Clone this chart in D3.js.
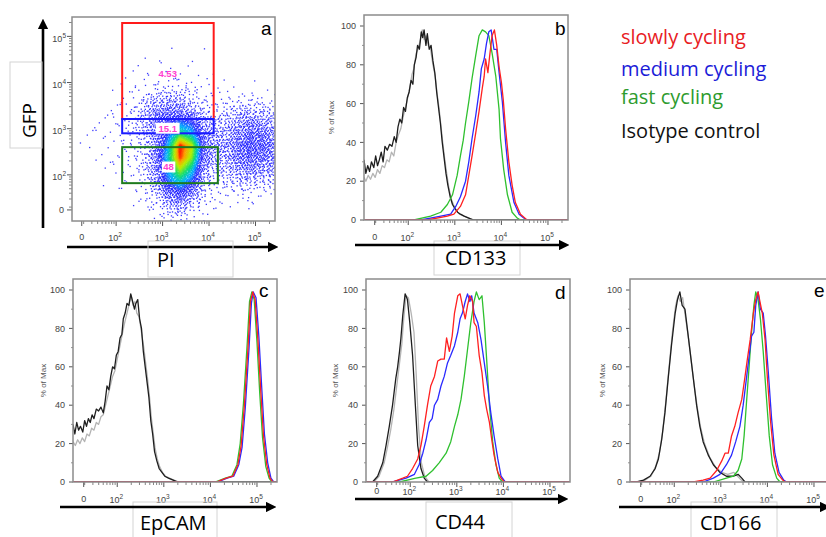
<!DOCTYPE html>
<html>
<head>
<meta charset="utf-8">
<title>Cycling populations - flow cytometry</title>
<script src="https://d3js.org/d3.v7.min.js"></script>
<style>
  body { margin: 0; background: #fff; }
  svg { display: block; font-family: "Liberation Sans", Arial, sans-serif; }
  .name { font-family: "Open Sans", sans-serif; }
</style>
</head>
<body>
<svg id="canvas" width="826" height="537"></svg>
<script>
// ---------- data ----------
// x positions are in display decades (2 = 10^2, 3 = 10^3 ...), "0" sits near 1.28
var tickDecades = [2, 3, 4, 5];
var tickExp = ["2", "3", "4", "5"];
var pctTicks = [0, 20, 40, 60, 80, 100];

// panel a: GFP vs PI density, counts per 0.25-decade cell (top row = highest GFP)
var gridX0 = 1.0, gridY0 = 1.0, cellSize = 0.25;
var densityGrid = [
  [0,0,0,0,0,0,0,0,0,0,0,0,0,0,0,0,0,0],
  [0,0,0,0,0,0,0,0,0,0,0,0,0,0,0,0,0,0],
  [0,0,0,0,0,0,0,0,0,0,0,0,0,0,0,0,0,0],
  [0,0,0,0,0,0,1,0,1,0,0,1,0,0,0,0,0,0],
  [0,0,0,0,0,1,1,1,2,1,1,0,0,0,0,0,0,0],
  [0,0,0,0,1,1,2,2,2,2,2,1,1,0,0,0,0,0],
  [0,0,0,0,1,2,4,7,9,8,5,3,2,1,1,1,0,0],
  [0,0,0,1,2,4,10,22,28,26,14,7,4,4,6,7,5,3],
  [0,0,1,1,3,8,24,48,55,50,30,14,9,15,20,25,20,15],
  [0,1,2,3,4,12,24,62,90,120,100,30,22,25,35,45,40,30],
  [0,1,2,2,4,6,16,45,110,190,150,50,28,30,50,65,60,45],
  [0,1,1,2,3,6,12,45,140,300,240,70,32,35,60,80,70,50],
  [0,1,1,2,3,6,12,55,160,290,220,60,28,30,55,70,60,45],
  [0,0,1,1,2,4,12,45,140,230,160,35,18,25,35,45,40,30],
  [0,0,0,1,2,3,8,35,115,160,110,22,12,15,18,22,18,12],
  [0,0,0,0,1,2,5,18,60,90,50,10,6,5,5,5,5,4],
  [0,0,0,0,0,1,3,8,28,38,20,5,2,2,2,2,2,1],
  [0,0,0,0,0,0,1,3,7,9,5,2,1,0,0,0,0,0]
];
// gates: [x0, x1, y0, y1] in decades
var gateSlow = [2.13, 4.10, 3.21, 5.29];
var gateMedium = [2.13, 4.10, 2.90, 3.21];
var gateFast = [2.13, 4.19, 1.82, 2.60];
var gateLabels = ["4.53", "15.1", "48"];
var gateLabelPos = [[3.11, 4.20], [3.11, 3.01], [3.13, 2.17]];

// panel b: CD133
var cd133Iso = [[1.05,31],[1.09,24],[1.13,28],[1.17,25],[1.21,30],[1.26,27],[1.30,33],[1.34,28],[1.38,31],[1.42,35],[1.46,30],[1.50,38],[1.55,36],[1.60,39],[1.65,38],[1.70,43],[1.74,40],[1.78,48],[1.82,52],[1.86,50],[1.90,58],[1.94,56],[1.98,63],[2.02,66],[2.06,72],[2.10,70],[2.13,80],[2.17,84],[2.20,90],[2.24,88],[2.28,97],[2.31,94],[2.34,98],[2.38,90],[2.41,96],[2.45,88],[2.49,90],[2.53,82],[2.57,76],[2.61,66],[2.65,58],[2.69,50],[2.73,40],[2.77,32],[2.81,24],[2.85,18],[2.90,12],[2.95,8],[3.00,6],[3.06,4],[3.12,3],[3.20,2],[3.30,1],[3.40,0],[5.43,0]];
var cd133Iso2 = [[1.05,22],[1.09,20],[1.14,23],[1.19,21],[1.24,24],[1.29,22],[1.34,26],[1.39,24],[1.44,28],[1.49,27],[1.54,31],[1.59,30],[1.64,35],[1.69,33],[1.74,40],[1.79,44],[1.84,47],[1.89,53],[1.94,58],[1.98,62],[2.03,68],[2.08,75],[2.12,78],[2.17,86],[2.21,88],[2.26,93],[2.30,98],[2.34,93],[2.38,95],[2.43,90],[2.48,88],[2.53,80],[2.58,74],[2.62,65],[2.66,58],[2.70,49],[2.74,40],[2.78,32],[2.82,25],[2.87,17],[2.92,11],[2.97,8],[3.03,5],[3.10,3],[3.20,2],[3.30,1],[3.42,0]];
var cd133Fast = [[1.05,0],[2.12,0],[2.48,2],[2.70,4],[2.84,8],[2.95,13],[3.05,23],[3.12,33],[3.18,41],[3.23,50],[3.30,61],[3.37,73],[3.45,85],[3.52,95],[3.59,98],[3.66,97],[3.73,95],[3.80,86],[3.88,74],[3.95,57],[3.98,42],[4.05,26],[4.13,13],[4.23,4],[4.34,1],[4.41,0],[5.43,0]];
var cd133Medium = [[1.05,0],[2.27,0],[2.70,2],[2.91,3],[3.02,7],[3.12,12],[3.23,20],[3.30,30],[3.37,42],[3.45,54],[3.52,66],[3.57,78],[3.63,83],[3.68,91],[3.73,97],[3.78,98],[3.84,88],[3.90,88],[3.95,76],[4.02,61],[4.09,40],[4.16,23],[4.27,9],[4.38,3],[4.48,1],[4.55,0],[5.43,0]];
var cd133Slow = [[1.05,0],[2.41,0],[2.84,2],[2.98,3],[3.12,7],[3.23,13],[3.30,23],[3.37,33],[3.45,45],[3.52,56],[3.59,68],[3.63,74],[3.66,83],[3.71,76],[3.75,85],[3.80,95],[3.85,98],[3.90,90],[3.95,79],[4.00,71],[4.04,62],[4.09,47],[4.16,30],[4.23,18],[4.30,9],[4.41,3],[4.55,0],[5.43,0]];

// panel c: EpCAM
var epcamIso = [[1.05,30],[1.09,25],[1.13,31],[1.17,27],[1.21,29],[1.26,26],[1.30,32],[1.34,29],[1.38,33],[1.42,31],[1.46,35],[1.50,33],[1.55,38],[1.60,37],[1.65,39],[1.70,36],[1.74,42],[1.78,50],[1.82,48],[1.86,55],[1.90,60],[1.94,59],[1.98,66],[2.02,68],[2.06,75],[2.10,77],[2.13,85],[2.17,88],[2.21,93],[2.25,92],[2.29,98],[2.33,94],[2.37,90],[2.40,93],[2.44,95],[2.48,85],[2.52,80],[2.56,68],[2.60,60],[2.64,52],[2.68,44],[2.72,32],[2.76,25],[2.80,16],[2.85,11],[2.90,7],[2.96,5],[3.02,3],[3.10,2],[3.20,1],[3.30,0],[5.43,0]];
var epcamIso2 = [[1.05,21],[1.10,19],[1.15,22],[1.20,20],[1.25,23],[1.30,21],[1.35,25],[1.40,24],[1.45,28],[1.50,27],[1.55,31],[1.60,30],[1.65,34],[1.70,35],[1.75,40],[1.80,45],[1.85,50],[1.90,55],[1.95,58],[2.00,64],[2.05,70],[2.10,76],[2.15,82],[2.20,87],[2.25,92],[2.30,97],[2.34,92],[2.38,94],[2.42,88],[2.47,86],[2.52,78],[2.57,70],[2.61,62],[2.65,54],[2.69,45],[2.73,34],[2.77,26],[2.81,18],[2.86,12],[2.91,8],[2.97,5],[3.04,3],[3.12,2],[3.22,1],[3.32,0]];
var epcamFast = [[1.05,0],[4.10,0],[4.32,2],[4.46,3],[4.57,9],[4.64,20],[4.71,41],[4.79,72],[4.84,94],[4.89,99],[4.94,95],[5.00,73],[5.06,46],[5.12,23],[5.19,8],[5.26,2],[5.32,0],[5.43,0]];
var epcamMedium = [[1.05,0],[4.15,0],[4.36,2],[4.50,3],[4.61,9],[4.68,18],[4.75,39],[4.83,70],[4.88,93],[4.92,99],[4.98,96],[5.04,76],[5.10,50],[5.16,25],[5.23,10],[5.30,2],[5.36,0],[5.43,0]];
var epcamSlow = [[1.05,0],[4.13,0],[4.34,2],[4.48,3],[4.59,9],[4.66,19],[4.73,40],[4.81,71],[4.86,94],[4.91,99],[4.96,95],[5.02,74],[5.08,48],[5.14,24],[5.21,9],[5.28,2],[5.34,0],[5.43,0]];

// panel d: CD44
var cd44Iso = [[1.05,0],[1.19,0],[1.30,3],[1.41,10],[1.48,19],[1.55,29],[1.62,40],[1.69,54],[1.73,60],[1.77,68],[1.80,75],[1.84,87],[1.89,98],[1.94,95],[1.99,83],[2.05,66],[2.11,40],[2.16,19],[2.23,7],[2.30,2],[2.37,0],[5.43,0]];
var cd44Iso2 = [[1.22,0],[1.33,3],[1.44,10],[1.51,18],[1.58,27],[1.65,38],[1.72,52],[1.78,64],[1.82,72],[1.86,85],[1.91,97],[1.96,96],[2.02,88],[2.08,78],[2.13,55],[2.18,28],[2.24,10],[2.31,3],[2.40,0]];
var cd44Fast = [[1.05,0],[1.77,0],[2.12,2],[2.34,3],[2.48,6],[2.62,10],[2.77,15],[2.87,21],[2.95,29],[3.02,35],[3.09,43],[3.16,55],[3.23,69],[3.30,83],[3.37,94],[3.42,99],[3.48,95],[3.54,97],[3.59,83],[3.64,64],[3.70,40],[3.77,21],[3.84,9],[3.91,2],[3.98,0],[5.43,0]];
var cd44Medium = [[1.05,0],[1.62,0],[1.91,2],[2.09,4],[2.19,9],[2.27,15],[2.34,22],[2.41,31],[2.47,33],[2.52,40],[2.59,43],[2.66,50],[2.73,55],[2.80,62],[2.87,66],[2.95,71],[3.02,78],[3.07,85],[3.12,88],[3.18,94],[3.23,98],[3.28,94],[3.32,97],[3.37,88],[3.45,83],[3.52,74],[3.59,62],[3.66,50],[3.73,36],[3.80,24],[3.88,12],[3.95,3],[4.04,0],[5.43,0]];
var cd44Slow = [[1.05,0],[1.62,0],[1.84,2],[1.94,3],[2.05,7],[2.16,12],[2.23,19],[2.30,29],[2.37,40],[2.44,50],[2.52,55],[2.59,63],[2.66,64],[2.73,64],[2.78,75],[2.84,68],[2.90,76],[2.95,88],[3.02,97],[3.07,98],[3.12,92],[3.18,85],[3.23,92],[3.28,97],[3.34,94],[3.37,83],[3.42,81],[3.48,66],[3.54,57],[3.59,45],[3.64,38],[3.70,31],[3.75,22],[3.80,14],[3.88,5],[3.95,2],[4.02,0],[5.43,0]];

// panel e: CD166
var cd166Iso = [[1.05,0],[1.19,0],[1.34,1],[1.48,3],[1.59,7],[1.66,12],[1.73,22],[1.80,36],[1.87,54],[1.94,71],[2.02,88],[2.07,95],[2.12,99],[2.17,92],[2.23,90],[2.28,80],[2.34,68],[2.41,54],[2.48,40],[2.55,29],[2.62,21],[2.73,14],[2.84,9],[2.98,5],[3.12,3],[3.27,3],[3.37,4],[3.45,2],[3.52,0],[5.43,0]];
var cd166Iso2 = [[1.22,0],[1.37,1],[1.50,3],[1.60,8],[1.68,15],[1.75,26],[1.82,42],[1.89,60],[1.96,78],[2.03,92],[2.08,97],[2.13,94],[2.18,96],[2.24,86],[2.30,76],[2.36,64],[2.43,50],[2.50,38],[2.57,28],[2.65,20],[2.76,13],[2.88,8],[3.02,5],[3.15,4],[3.28,5],[3.36,3],[3.44,1],[3.50,0]];
var cd166Fast = [[1.05,0],[2.84,0],[3.12,2],[3.27,3],[3.37,6],[3.45,12],[3.50,24],[3.55,41],[3.61,61],[3.66,78],[3.71,92],[3.75,99],[3.80,95],[3.85,85],[3.91,68],[3.97,47],[4.04,24],[4.11,9],[4.20,2],[4.27,0],[5.43,0]];
var cd166Medium = [[1.05,0],[2.62,0],[2.84,2],[2.98,4],[3.12,9],[3.23,14],[3.32,21],[3.41,29],[3.48,40],[3.55,54],[3.61,66],[3.66,76],[3.71,78],[3.75,92],[3.80,99],[3.85,90],[3.91,88],[3.96,76],[4.02,57],[4.09,33],[4.16,15],[4.25,5],[4.35,1],[4.41,0],[5.43,0]];
var cd166Slow = [[1.05,0],[2.41,0],[2.62,1],[2.77,2],[2.91,6],[3.02,11],[3.09,15],[3.16,15],[3.23,24],[3.30,29],[3.37,36],[3.45,43],[3.52,55],[3.57,64],[3.63,74],[3.70,88],[3.75,95],[3.80,99],[3.84,94],[3.89,88],[3.95,74],[4.00,54],[4.07,31],[4.14,14],[4.23,4],[4.33,1],[4.38,0],[5.43,0]];

var legendNames = ["slowly cycling", "medium cycling", "fast cycling", "Isotype control"];
var legendColors = ["#e8201f", "#1c1cd8", "#2e9b2e", "#111111"];

// ---------- drawing ----------
var svg = d3.select("#canvas");
var W = 204;
var defs = svg.append("defs");
defs.append("marker").attr("id", "head").attr("viewBox", "0 0 10 10")
  .attr("refX", 2).attr("refY", 5).attr("markerWidth", 4).attr("markerHeight", 4)
  .attr("orient", "auto")
  .append("path").attr("d", "M0,0 L10,5 L0,10 Z").attr("fill", "#000");

function arrow(x1, y1, x2, y2) {
  svg.append("line").attr("x1", x1).attr("y1", y1).attr("x2", x2).attr("y2", y2)
    .attr("stroke", "#000").attr("stroke-width", 2.6).attr("marker-end", "url(#head)");
}
function nameBox(x, y, w, h) {
  svg.append("rect").attr("x", x).attr("y", y).attr("width", w).attr("height", h)
    .attr("fill", "none").attr("stroke", "#d4d4d4").attr("stroke-width", 1);
}
function powLabel(sel, exp) {
  sel.append("tspan").text("10");
  sel.append("tspan").attr("dy", -4).attr("font-size", 6.5).text(exp);
}
function minorValues(lo, hi) {
  var out = [];
  for (var n = 1; n <= 5; n++) {
    for (var k = 2; k <= 9; k++) {
      var v = n + Math.log10(k);
      if (v > lo && v < hi) out.push(v);
    }
  }
  return out;
}

// x axis under a frame (ticks + labels)
function xAxis(g, x, bottom, labelY, zero) {
  g.selectAll(".mn").data(minorValues(x.domain()[0], x.domain()[1])).enter().append("line")
    .attr("x1", d => x(d)).attr("x2", d => x(d)).attr("y1", bottom).attr("y2", bottom + 3)
    .attr("stroke", "#666").attr("stroke-width", 0.8);
  g.selectAll(".mj").data([zero].concat(tickDecades)).enter().append("line")
    .attr("x1", d => x(d)).attr("x2", d => x(d)).attr("y1", bottom).attr("y2", bottom + 5)
    .attr("stroke", "#555").attr("stroke-width", 1);
  g.append("text").attr("x", x(zero)).attr("y", labelY).attr("text-anchor", "middle")
    .attr("dy", "0.35em").attr("font-size", 9).attr("fill", "#444").text("0");
  tickDecades.forEach(function (d, i) {
    var t = g.append("text").attr("x", x(d) - 1).attr("y", labelY + 1).attr("text-anchor", "middle")
      .attr("dy", "0.35em").attr("font-size", 9).attr("fill", "#444");
    powLabel(t, tickExp[i]);
  });
}

function frame(x0, y0, w, h) {
  svg.append("rect").attr("x", x0).attr("y", y0).attr("width", w).attr("height", h)
    .attr("fill", "none").attr("stroke", "#8c8c8c").attr("stroke-width", 1.5);
}

// ----- panel a -----
(function () {
  var left = 72, top = 17, bottom = 221;
  var x = d3.scaleLinear().domain([1.05, 5.42]).range([left, left + 203]);
  var y = d3.scaleLinear().domain([1.0, 5.42]).range([bottom, top]);
  var g = svg.append("g");
  defs.append("clipPath").attr("id", "clipA").append("rect")
    .attr("x", left).attr("y", top).attr("width", 203).attr("height", bottom - top);

  var rows = densityGrid.length;
  function densAt(px, py) {
    var fx = (px - gridX0) / cellSize - 0.5, fy = (py - gridY0) / cellSize - 0.5;
    var i0 = Math.floor(fx), j0 = Math.floor(fy), tx = fx - i0, ty = fy - j0;
    function v(i, j) {
      if (i < 0 || j < 0 || i >= densityGrid[0].length || j >= rows) return 0;
      return densityGrid[rows - 1 - j][i];
    }
    return (v(i0, j0) * (1 - tx) + v(i0 + 1, j0) * tx) * (1 - ty) +
           (v(i0, j0 + 1) * (1 - tx) + v(i0 + 1, j0 + 1) * tx) * ty;
  }
  function frac(v) { return v - Math.floor(v); }
  // map a uniform value to a tent shape on [-1, 1] so neighbouring cells blend
  function tent(u) { return u < 0.5 ? Math.sqrt(2 * u) - 1 : 1 - Math.sqrt(2 * (1 - u)); }
  var dots = [];
  densityGrid.forEach(function (row, ri) {
    var j = rows - 1 - ri;
    row.forEach(function (n, i) {
      var cx = gridX0 + (i + 0.5) * cellSize, cy = gridY0 + (j + 0.5) * cellSize;
      var s1 = frac(i * 0.6180339 + j * 0.4142136), s2 = frac(i * 0.3247180 + j * 0.7320508);
      for (var k = 0; k < n; k++) {
        var u1 = frac(s1 + k * 0.7548776662), u2 = frac(s2 + k * 0.5698402910);
        var px = cx + tent(u1) * cellSize * 1.05;
        var py = cy + tent(u2) * cellSize * 1.05;
        dots.push({ x: px, y: py, d: densAt(px, py) });
      }
    });
  });
  dots.sort((a, b) => a.d - b.d);
  var col = d3.scaleLinear()
    .domain([0, 95, 140, 185, 235, 270, 295])
    .range(["#3a3aff", "#2626ff", "#00b0ff", "#10dd70", "#b8ee00", "#ffa000", "#ff2000"])
    .clamp(true);
  g.append("g").attr("clip-path", "url(#clipA)").selectAll("rect").data(dots).enter().append("rect")
    .attr("x", d => x(d.x) - 0.65).attr("y", d => y(d.y) - 0.65)
    .attr("width", 1.3).attr("height", 1.3)
    .attr("fill", d => col(d.d));

  // gates
  var gates = [[gateSlow, "#ff1a1a"], [gateMedium, "#1a1aff"], [gateFast, "#1d7a1d"]];
  gates.forEach(function (gt) {
    var r = gt[0];
    g.append("rect").attr("x", x(r[0])).attr("y", y(r[3]))
      .attr("width", x(r[1]) - x(r[0])).attr("height", y(r[2]) - y(r[3]))
      .attr("fill", "none").attr("stroke", gt[1]).attr("stroke-width", 2);
  });
  gateLabels.forEach(function (t, i) {
    var px = x(gateLabelPos[i][0]), py = y(gateLabelPos[i][1]);
    if (i > 0) {
      var w = t.length * 5.2 + 3;
      g.append("rect").attr("x", px - w / 2).attr("y", py - 5.5).attr("width", w).attr("height", 11)
        .attr("fill", "#fff");
    }
    g.append("text").attr("x", px).attr("y", py).attr("dy", "0.35em").attr("text-anchor", "middle")
      .attr("font-size", 9.5).attr("font-weight", "bold").attr("fill", "#ff40d0").text(t);
  });

  frame(left, top, 203, bottom - top);

  // y axis ticks
  g.selectAll(".ymn").data(minorValues(1.0, 5.42)).enter().append("line")
    .attr("x1", left).attr("x2", left - 3).attr("y1", d => y(d)).attr("y2", d => y(d))
    .attr("stroke", "#666").attr("stroke-width", 0.8);
  g.selectAll(".ymj").data([1.24].concat(tickDecades)).enter().append("line")
    .attr("x1", left).attr("x2", left - 5).attr("y1", d => y(d)).attr("y2", d => y(d))
    .attr("stroke", "#555").attr("stroke-width", 1);
  g.append("text").attr("x", 64).attr("y", y(1.24)).attr("dy", "0.35em").attr("text-anchor", "end")
    .attr("font-size", 9).attr("fill", "#444").text("0");
  tickDecades.forEach(function (d, i) {
    var t = g.append("text").attr("x", 66).attr("y", y(d) + 2).attr("dy", "0.35em")
      .attr("text-anchor", "end").attr("font-size", 9).attr("fill", "#444");
    powLabel(t, tickExp[i]);
  });
  xAxis(g, x, bottom, 237, 1.26);

  svg.append("text").attr("x", 261).attr("y", 35).attr("font-size", 19).text("a");
  arrow(43, 228, 43, 27);
  arrow(67, 247, 270, 247);
  nameBox(10, 62, 32, 86);
  nameBox(148, 241, 85, 36);
  svg.append("text").attr("class", "name").attr("font-size", 19)
    .attr("transform", "translate(36,138) rotate(-90)").text("GFP");
  svg.append("text").attr("class", "name").attr("font-size", 20).attr("x", 157).attr("y", 267).text("PI");
})();

// ----- histogram panels -----
var histPanels = [
  { id: "b", left: 364, top: 15, bottom: 220, labelY: 237, arrowY: 245, arrowX: [355, 561],
    box: [434, 241, 86, 34], name: "CD133", nameX: 445, nameY: 265, letterX: 555, letterY: 35, maxX: 331,
    series: [cd133Iso2, cd133Iso, cd133Fast, cd133Medium, cd133Slow] },
  { id: "c", left: 73, top: 279, bottom: 482, labelY: 499, arrowY: 507, arrowX: [60, 268],
    box: [133, 502, 84, 40], name: "EpCAM", nameX: 140, nameY: 530, letterX: 259, letterY: 297, maxX: 43,
    series: [epcamIso2, epcamIso, epcamFast, epcamMedium, epcamSlow] },
  { id: "d", left: 366, top: 279, bottom: 482, labelY: 491, arrowY: 499, arrowX: [355, 560],
    box: [426, 502, 86, 40], name: "CD44", nameX: 435, nameY: 529, letterX: 555, letterY: 299, maxX: 335,
    series: [cd44Iso2, cd44Iso, cd44Fast, cd44Medium, cd44Slow] },
  { id: "e", left: 630, top: 279, bottom: 482, labelY: 499, arrowY: 507, arrowX: [619, 822],
    box: [691, 502, 86, 40], name: "CD166", nameX: 700, nameY: 530, letterX: 814, letterY: 297, maxX: 602,
    series: [cd166Iso2, cd166Iso, cd166Fast, cd166Medium, cd166Slow] }
];
var seriesColors = ["#b4b4b4", "#1e1e1e", "#2fc02f", "#2a2aff", "#ff2020"];

histPanels.forEach(function (p) {
  var x = d3.scaleLinear().domain([1.05, 5.43]).range([p.left, p.left + W]);
  var y = d3.scaleLinear().domain([0, 100]).range([p.bottom, p.top + 11]);
  var g = svg.append("g");
  defs.append("clipPath").attr("id", "clip" + p.id).append("rect")
    .attr("x", p.left).attr("y", p.top).attr("width", W).attr("height", p.bottom - p.top);
  var line = d3.line().x(d => x(d[0])).y(d => y(d[1]));
  var lines = g.append("g").attr("clip-path", "url(#clip" + p.id + ")");
  p.series.forEach(function (s, i) {
    lines.append("path").attr("d", line(s)).attr("fill", "none")
      .attr("stroke", seriesColors[i]).attr("stroke-width", 1.3).attr("stroke-linejoin", "round");
  });
  frame(p.left, p.top, W, p.bottom - p.top);

  // y axis
  g.selectAll(".ymn").data([10, 30, 50, 70, 90]).enter().append("line")
    .attr("x1", p.left).attr("x2", p.left - 2).attr("y1", d => y(d)).attr("y2", d => y(d))
    .attr("stroke", "#777").attr("stroke-width", 0.8);
  g.selectAll(".ymj").data(pctTicks).enter().append("line")
    .attr("x1", p.left).attr("x2", p.left - 4).attr("y1", d => y(d)).attr("y2", d => y(d))
    .attr("stroke", "#555").attr("stroke-width", 1);
  g.selectAll(".yl").data(pctTicks).enter().append("text")
    .attr("x", p.left - 8).attr("y", d => y(d)).attr("dy", "0.35em").attr("text-anchor", "end")
    .attr("font-size", 9).attr("fill", "#444").text(d => d);
  g.append("text").attr("transform", "translate(" + p.maxX + "," + ((p.top + p.bottom) / 2) + ") rotate(-90)")
    .attr("text-anchor", "middle").attr("dy", "0.35em").attr("font-size", 8).attr("fill", "#555")
    .text("% of Max");
  xAxis(g, x, p.bottom, p.labelY, 1.28);

  svg.append("text").attr("x", p.letterX).attr("y", p.letterY).attr("font-size", 19).text(p.id);
  nameBox(p.box[0], p.box[1], p.box[2], p.box[3]);
  arrow(p.arrowX[0], p.arrowY, p.arrowX[1], p.arrowY);
  svg.append("text").attr("class", "name").attr("font-size", 20)
    .attr("x", p.nameX).attr("y", p.nameY).text(p.name);
});

// legend
svg.selectAll(".legend").data(legendNames).enter().append("text")
  .attr("class", "name").attr("x", 621).attr("y", (d, i) => [44, 76, 104, 138][i])
  .attr("font-size", 20).attr("fill", (d, i) => legendColors[i]).text(d => d);
</script>
</body>
</html>
